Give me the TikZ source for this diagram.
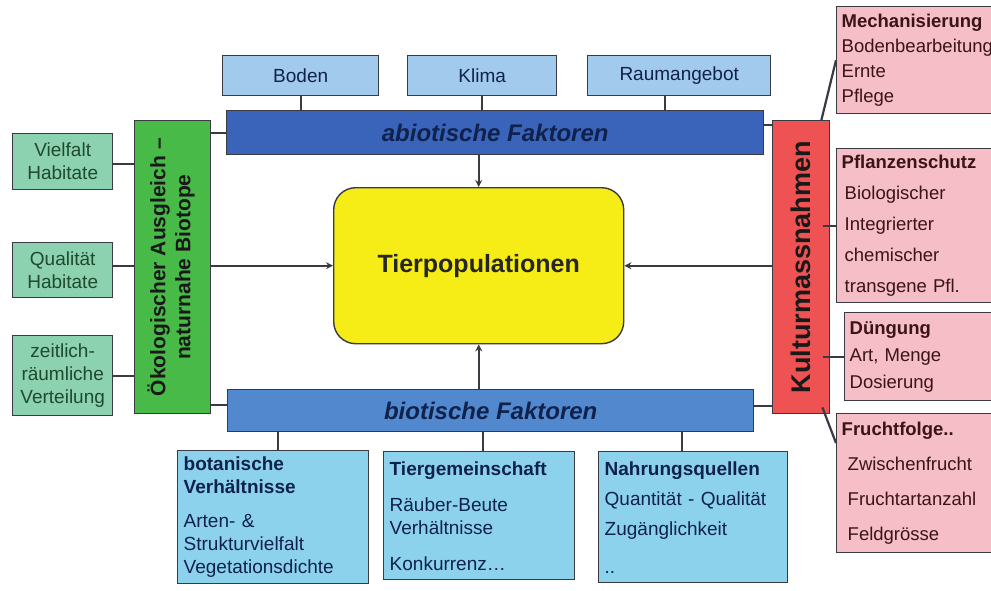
\documentclass[tikz,border=0pt]{standalone}
\usepackage{fontspec}
\setmainfont{Liberation Sans}
\usetikzlibrary{arrows.meta}

\definecolor{bodenblau}{RGB}{162,202,236}
\definecolor{abioblau}{RGB}{58,100,186}
\definecolor{bioblau}{RGB}{82,136,206}
\definecolor{hellblau}{RGB}{140,210,236}
\definecolor{gruenbalken}{RGB}{72,186,72}
\definecolor{mint}{RGB}{140,210,176}
\definecolor{rotbalken}{RGB}{238,82,82}
\definecolor{rosa}{RGB}{246,190,198}
\definecolor{gelb}{RGB}{246,236,22}
\definecolor{rand}{RGB}{58,58,66}
\definecolor{navy}{RGB}{16,34,76}
\definecolor{dunkelgruen}{RGB}{30,74,46}
\definecolor{dunkelrot}{RGB}{58,20,24}

\tikzset{
  kasten/.style={draw=rand, line width=1.4pt, inner sep=0pt, anchor=north west},
  obenbox/.style={kasten, fill=bodenblau, text=navy, font=\fontsize{19}{22}\selectfont},
  balken/.style={kasten, text=navy, font=\fontsize{24}{26}\selectfont\bfseries\itshape},
  seitenbox/.style={kasten, fill=mint, text=dunkelgruen, align=center,
    font=\fontsize{19}{23}\selectfont},
  untenbox/.style={kasten, fill=hellblau, text=navy, align=left, inner xsep=6pt,
    font=\fontsize{19}{23}\selectfont},
  rosabox/.style={kasten, fill=rosa, text=dunkelrot, align=left, inner xsep=4pt,
    minimum width=170pt, text width=160pt},
  verbinder/.style={draw=rand, line width=2.2pt},
  pfeil/.style={verbinder, -{Stealth[length=7pt,width=7pt]}}
}

\begin{document}
\begin{tikzpicture}[x=1pt,y=-1pt]
\useasboundingbox[fill=white] (0,0) rectangle (991,590);

% abiotische Seite
\node[obenbox, minimum width=156pt, minimum height=40pt] (boden) at (222,55) {Boden};
\node[obenbox, minimum width=149pt, minimum height=40pt] (klima) at (407,55) {Klima};
\node[obenbox, minimum width=183pt, minimum height=40pt] (raum) at (587,55) {Raumangebot};
\node[balken, fill=abioblau, minimum width=537pt, minimum height=44pt] (abio) at (226,110) {abiotische Faktoren};

% Mitte
\node[kasten, fill=gelb, rounded corners=22pt, minimum width=290pt, minimum height=156pt,
  font=\fontsize{25}{28}\selectfont\bfseries, text=black!85] (tier) at (333,187) {Tierpopulationen};

% biotische Seite
\node[balken, fill=bioblau, minimum width=526pt, minimum height=42pt] (bio) at (227,389) {biotische Faktoren};
\node[untenbox, minimum width=191pt, minimum height=133pt, text width=179pt] (bot) at (177,450)
  {\textbf{botanische}\\\textbf{Verhältnisse}\\[11pt]Arten- \&\\Strukturvielfalt\\Vegetationsdichte};
\node[untenbox, minimum width=191pt, minimum height=128pt, text width=179pt] (gemein) at (383,451)
  {\textbf{Tiergemeinschaft}\\[13pt]Räuber-Beute\\Verhältnisse\\[13pt]Konkurrenz…};
\node[untenbox, minimum width=189pt, minimum height=131pt, text width=177pt,
  font=\fontsize{19}{30}\selectfont] (nahrung) at (598,451)
  {\textbf{Nahrungsquellen}\\Quantität - Qualität\\Zugänglichkeit\\[8pt]..};

% links
\node[kasten, fill=gruenbalken, minimum width=76pt, minimum height=293pt, text=black!90,
  font=\fontsize{21}{25}\selectfont\bfseries] (oeko) at (134,120)
  {\rotatebox{90}{\begin{tabular}{@{}c@{}}Ökologischer Ausgleich –\\naturnahe Biotope\end{tabular}}};
\node[seitenbox, minimum width=100pt, minimum height=56pt] (vielfalt) at (12,133) {Vielfalt\\Habitate};
\node[seitenbox, minimum width=100pt, minimum height=55pt] (qualitaet) at (12,242) {Qualität\\Habitate};
\node[seitenbox, minimum width=100pt, minimum height=80pt] (zeitlich) at (12,335) {zeitlich-\\räumliche\\Verteilung};

% rechts
\node[kasten, fill=rotbalken, minimum width=57pt, minimum height=293pt, text=black!90,
  font=\fontsize{27}{30}\selectfont\bfseries] (kultur) at (772,120)
  {\rotatebox{90}{Kulturmassnahmen}};
\node[rosabox, minimum height=107pt, font=\fontsize{18.5}{25}\selectfont] (mech) at (836,6)
  {\textbf{Mechanisierung}\\Bodenbearbeitung\\Ernte\\Pflege};
\node[rosabox, minimum height=154pt, font=\fontsize{18.5}{31}\selectfont] (pflanz) at (836,148)
  {\textbf{Pflanzenschutz}\\\hspace*{3pt}Biologischer\\\hspace*{3pt}Integrierter\\\hspace*{3pt}chemischer\\\hspace*{3pt}transgene Pfl.};
\node[rosabox, minimum width=162pt, text width=152pt, minimum height=88pt,
  font=\fontsize{18.5}{27}\selectfont] (duengung) at (844,312)
  {\textbf{Düngung}\\Art, Menge\\Dosierung};
\node[rosabox, minimum height=139pt, font=\fontsize{18.5}{35}\selectfont] (frucht) at (836,413)
  {\textbf{Fruchtfolge..}\\\hspace*{6pt}Zwischenfrucht\\\hspace*{6pt}Fruchtartanzahl\\\hspace*{6pt}Feldgrösse};

% Verbindungen oben
\draw[verbinder] (boden.south) -- (boden.south |- abio.north);
\draw[verbinder] (klima.south) -- (klima.south |- abio.north);
\draw[verbinder] ([xshift=-14pt]raum.south) -- ([xshift=-14pt]raum.south |- abio.north);

% Verbindungen unten
\draw[verbinder] ([xshift=5pt]bot.north) -- ([xshift=5pt]bot.north |- bio.south);
\draw[verbinder] ([xshift=4pt]gemein.north) -- ([xshift=4pt]gemein.north |- bio.south);
\draw[verbinder] ([xshift=-11pt]nahrung.north) -- ([xshift=-11pt]nahrung.north |- bio.south);

% Balken untereinander
\draw[verbinder] (abio.west) -- (abio.west -| oeko.east);
\draw[verbinder] ([yshift=8pt]abio.east) -- ([yshift=8pt]abio.east -| kultur.west);
\draw[verbinder] ([yshift=6pt]bio.west) -- ([yshift=6pt]bio.west -| oeko.east);
\draw[verbinder] ([yshift=5pt]bio.east) -- ([yshift=5pt]bio.east -| kultur.west);

% Pfeile zur Mitte
\draw[pfeil] (tier.north |- abio.south) -- (tier.north);
\draw[pfeil] (tier.south |- bio.north) -- (tier.south);
\draw[pfeil] (oeko.east |- tier.west) -- (tier.west);
\draw[pfeil] (kultur.west |- tier.east) -- (tier.east);

% links
\draw[verbinder] ([yshift=-2pt]vielfalt.east) -- ([yshift=-2pt]vielfalt.east -| oeko.west);
\draw[verbinder] ([yshift=4pt]qualitaet.east) -- ([yshift=4pt]qualitaet.east -| oeko.west);
\draw[verbinder] (zeitlich.east) -- (zeitlich.east -| oeko.west);

% rechts
\draw[verbinder] ([xshift=-9pt]kultur.north east) -- (mech.west);
\draw[verbinder] ([xshift=-7pt]kultur.east |- pflanz.west) -- (pflanz.west);
\draw[verbinder] ([xshift=-7pt]kultur.east |- duengung.west) -- (duengung.west);
\draw[verbinder] ([xshift=-8pt,yshift=7pt]kultur.south east) -- ([yshift=-30pt]frucht.north west);
\end{tikzpicture}
\end{document}
